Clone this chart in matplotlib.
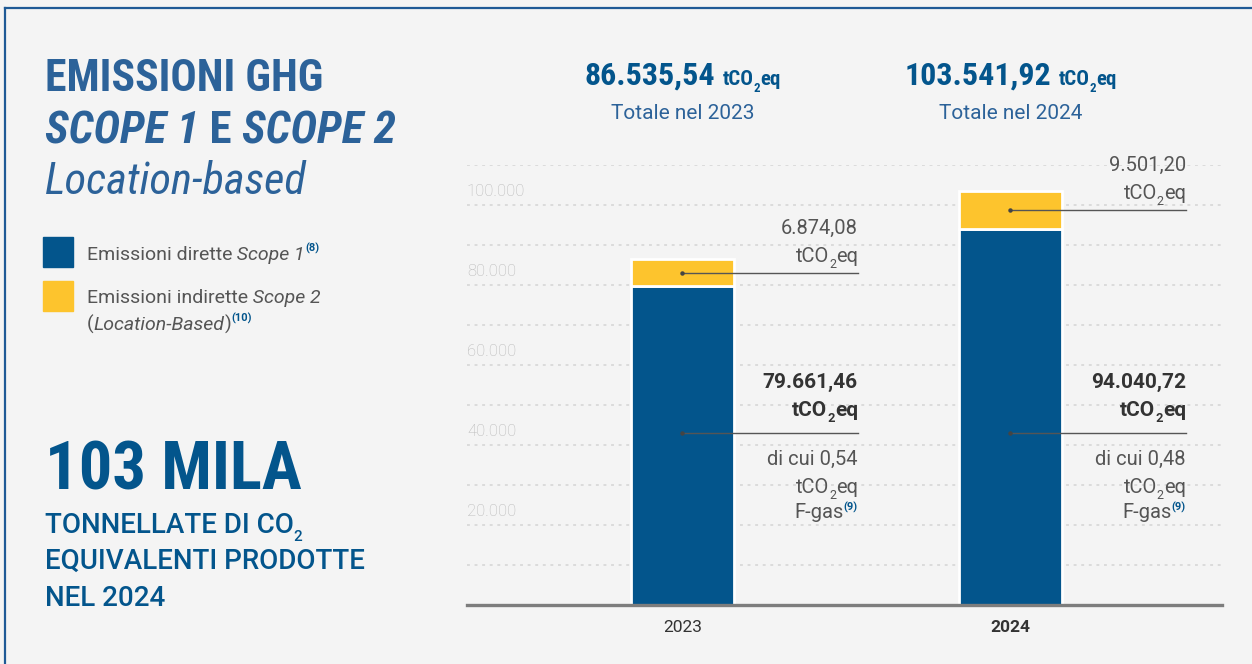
import numpy as np
import matplotlib
matplotlib.use("Agg")
import matplotlib.pyplot as plt
import matplotlib.patches as patches
from matplotlib.lines import Line2D
from matplotlib.transforms import IdentityTransform
from matplotlib import font_manager


YEARS = ["2023", "2024"]
SCOPE1 = [79661.46, 94040.72]
SCOPE2 = [6874.08, 9501.20]
TOTAL = [86535.54, 103541.92]
FGAS = [0.54, 0.48]
GRID_TICKS = list(range(10000, 110001, 10000))
YLABEL_TICKS = [20000, 40000, 60000, 80000, 100000]

BLUE = "#03558c"
YELLOW = "#fdc42d"
TITLE_BLUE = "#2c6299"
GREY_TXT = "#555555"
DARK_TXT = "#333333"
BG = "#f4f4f4"

W, H = 1252, 664

names = {f.name for f in font_manager.fontManager.ttflist}
COND = next((n for n in ["Roboto Condensed", "Liberation Sans Narrow"] if n in names), None)
# no condensed face -> plain Roboto, a bit smaller so widths stay close
CF = [COND, "Roboto", "DejaVu Sans"] if COND else ["Roboto", "DejaVu Sans"]
CK = 1.0 if COND else 0.88
RF = ["Roboto", "DejaVu Sans"]

plt.rcParams["font.family"] = RF


def it_num(v, dec=2):
    s = f"{v:,.{dec}f}"
    return s.replace(",", "X").replace(".", ",").replace("X", ".")


def Y(y):
    return H - y


fig = plt.figure(figsize=(W / 100, H / 100), dpi=100, facecolor=BG)
renderer = fig.canvas.get_renderer()


def draw_runs(x, y, runs, ha="left"):
    # runs: (text, props, dy) ; x, y in display pixels, baseline
    arts = []
    total = 0
    for s, kw, dy in runs:
        t = fig.text(0, 0, s, transform=IdentityTransform(), va="baseline", ha="left", **kw)
        w = t.get_window_extent(renderer).width
        arts.append((t, dy, w))
        total += w
    if ha == "right":
        cx = x - total
    elif ha == "center":
        cx = x - total / 2
    else:
        cx = x
    for t, dy, w in arts:
        t.set_position((cx, y + dy))
        cx += w


def co2_runs(size, weight, color, family=RF, sub_dy=-6):
    base = dict(fontsize=size, fontweight=weight, color=color, family=family)
    sub = dict(fontsize=size * 0.62, fontweight=weight, color=color, family=family)
    return [("tCO", base, 0), ("2", sub, sub_dy), ("eq", base, 0)]


# frame
fig.add_artist(Line2D([5 / W, 1], [Y(8) / H, Y(8) / H], color="#1f5a96", lw=1.6))
fig.add_artist(Line2D([5 / W, 5 / W], [0, Y(8) / H], color="#1f5a96", lw=1.6))

# ---- left panel ----
draw_runs(45, Y(91), [("EMISSIONI GHG", dict(fontsize=31.5 * CK, fontweight="bold", color=TITLE_BLUE, family=CF), 0)])
it_b = dict(fontsize=32.5 * CK, fontweight="bold", style="italic", color=TITLE_BLUE, family=CF)
up_b = dict(fontsize=32.5 * CK, fontweight="bold", color=TITLE_BLUE, family=CF)
draw_runs(45, Y(143), [("SCOPE 1", it_b, 0), (" E ", up_b, 0), ("SCOPE 2", it_b, 0)])
draw_runs(45, Y(194), [("Location-based", dict(fontsize=32 * CK, style="italic", color=TITLE_BLUE, family=CF), 0)])

fig.add_artist(patches.Rectangle((43 / W, Y(267) / H), 30 / W, 30 / H, color=BLUE, transform=fig.transFigure))
fig.add_artist(patches.Rectangle((43 / W, Y(311) / H), 30 / W, 30 / H, color=YELLOW, transform=fig.transFigure))
lg = dict(fontsize=14, fontweight="normal", color=GREY_TXT)
lgi = dict(fontsize=14, fontweight="normal", style="italic", color=GREY_TXT)
sup = dict(fontsize=8, fontweight="bold", color=BLUE)
draw_runs(87, Y(260), [("Emissioni dirette", lg, 0), (" Scope 1", lgi, 0), ("(8)", sup, 8)])
draw_runs(87, Y(303), [("Emissioni indirette", lg, 0), (" Scope 2", lgi, 0)])
draw_runs(87, Y(330), [("(", lg, 0), ("Location-Based", lgi, 0), (")", lg, 0), ("(10)", sup, 8)])

big_total = int(TOTAL[1] // 1000)
draw_runs(45, Y(490), [(f"{big_total} MILA", dict(fontsize=48 * CK, fontweight="bold", color=BLUE, family=CF), 0)])
sub_b = dict(fontsize=20, fontweight="medium", color=BLUE)
draw_runs(45, Y(533), [("TONNELLATE DI CO", sub_b, 0), ("2", dict(fontsize=11, fontweight="medium", color=BLUE), -8)])
draw_runs(45, Y(569), [("EQUIVALENTI PRODOTTE", sub_b, 0)])
draw_runs(45, Y(606), [("NEL 2024", sub_b, 0)])

# ---- chart ----
ax = fig.add_axes([467 / W, Y(605) / H, 755 / W, 440 / H])
ax.set_facecolor("none")
x = np.arange(len(YEARS))
bw = 0.314
ax.bar(x, SCOPE1, bw, color=BLUE, edgecolor="white", linewidth=2, zorder=3)
ax.bar(x, SCOPE2, bw, bottom=SCOPE1, color=YELLOW, edgecolor="white", linewidth=2, zorder=3)
ax.set_xlim(-0.657, 1.645)
ax.set_ylim(0, 110000)

ax.set_yticks(GRID_TICKS)
ax.tick_params(axis="y", length=0, labelleft=False)
ax.grid(axis="y", color="#d9d9d9", linestyle=(0, (1.6, 2.6)), linewidth=1.3)
ax.set_axisbelow(True)
for s in ["top", "right", "left"]:
    ax.spines[s].set_visible(False)
ax.spines["bottom"].set_color("#7d7d7d")
ax.spines["bottom"].set_linewidth(2.4)
ax.spines["bottom"].set_zorder(4)

ax.set_xticks(x, YEARS)
ax.tick_params(axis="x", length=0, pad=11, labelsize=12.5, labelcolor=DARK_TXT)
ax.get_xticklabels()[1].set_fontweight("bold")

for v in YLABEL_TICKS:
    ax.text(0, v + 3500, f"{v:,}".replace(",", "."), transform=ax.get_yaxis_transform(),
            ha="left", va="center", fontsize=12, fontweight="light", color="#b8b8b8")

LEAD = 0.535
BLUE_LABEL_Y = 43000
lt = dict(fontsize=14.5, fontweight="normal", color=GREY_TXT)
bd = dict(fontsize=15, fontweight="bold", color=DARK_TXT)
for i in range(len(YEARS)):
    ym = SCOPE1[i] + SCOPE2[i] / 2
    for yy in (ym, BLUE_LABEL_Y):
        ax.plot([x[i], x[i] + LEAD], [yy, yy], color="#555555", lw=1, zorder=5, clip_on=False)
        ax.plot(x[i], yy, "o", ms=2.2, color="#444444", zorder=5)
    ex, ey = ax.transData.transform((x[i] + LEAD, ym))
    draw_runs(ex, ey + 39, [(it_num(SCOPE2[i]), lt, 0)], ha="right")
    draw_runs(ex, ey + 11, co2_runs(14.5, "normal", GREY_TXT), ha="right")
    ex, ey = ax.transData.transform((x[i] + LEAD, BLUE_LABEL_Y))
    draw_runs(ex, ey + 45, [(it_num(SCOPE1[i]), bd, 0)], ha="right")
    draw_runs(ex, ey + 17, co2_runs(15, "bold", DARK_TXT), ha="right")
    draw_runs(ex, ey - 32, [("di cui " + it_num(FGAS[i]), lt, 0)], ha="right")
    draw_runs(ex, ey - 60, co2_runs(14.5, "normal", GREY_TXT), ha="right")
    draw_runs(ex, ey - 85, [("F-gas", lt, 0), ("(9)", sup, 7)], ha="right")

    # header above the bars
    cx, _ = ax.transData.transform((x[i], 0))
    hb = dict(fontsize=23 * CK, fontweight="bold", color=BLUE, family=CF)
    draw_runs(cx, Y(85), [(it_num(TOTAL[i]), hb, 0), (" ", hb, 0)]
              + co2_runs(15 * CK, "bold", BLUE, family=CF, sub_dy=-7), ha="center")
    draw_runs(cx, Y(119), [(f"Totale nel {YEARS[i]}", dict(fontsize=15, fontweight="normal", color=TITLE_BLUE), 0)],
              ha="center")

fig.savefig("out.png", dpi=100, facecolor=BG)
